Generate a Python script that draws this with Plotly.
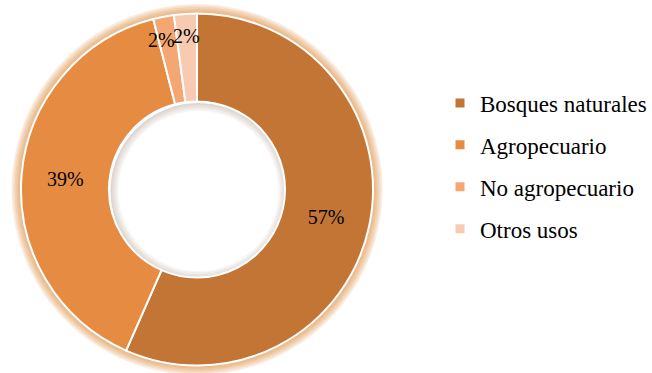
import math
import plotly.graph_objects as go

# ---- data ----
categories = ["Bosques naturales", "Agropecuario", "No agropecuario", "Otros usos"]
values = [56.6, 39.4, 1.9, 2.1]
colors = ["#C37535", "#E68C42", "#F4A772", "#F8CAB2"]

W, H = 652, 373
FONT = "Liberation Serif, Times New Roman, serif"

# pie geometry (pixels)
cx, cy, R = 197.0, 189.5, 176.0
hole = 0.5

def dom(r):
    return dict(x=[(cx - r) / W, (cx + r) / W],
                y=[(H - cy - r) / H, (H - cy + r) / H])

def circle(r, color, width, dx=0.0, dy=0.0):
    x, y = cx + dx, cy + dy
    return dict(type="circle", xref="paper", yref="paper", layer="below",
                x0=(x - r) / W, x1=(x + r) / W,
                y0=(H - y - r) / H, y1=(H - y + r) / H,
                line=dict(color=color, width=width))

shapes = []
# soft orange glow around the ring
for k in range(1, 7):
    shapes.append(circle(R + k * 0.8, "rgba(222,140,60,0.15)", 1.6 * k))
# soft shadow inside the hole
for k in range(1, 6):
    shapes.append(circle(R * hole - k * 0.8, "rgba(130,105,80,0.06)", 1.6 * k, 1.5, 1.5))

fig = go.Figure()

total = sum(values)
big = [v / total >= 0.05 for v in values]
templates = ["%{percent:.0%}" if b else "" for b in big]

fig.add_trace(go.Pie(
    labels=categories, values=values, domain=dom(R), hole=hole,
    sort=False, direction="clockwise", rotation=0,
    marker=dict(colors=colors, line=dict(color="white", width=2)),
    texttemplate=templates, textposition="inside", insidetextorientation="horizontal",
    textfont=dict(family=FONT, size=20, color="black"),
    showlegend=False, hoverinfo="label+percent",
))

# labels for the thin slices, placed from their angles
cum = 0.0
shifts = {2: -6, 3: 0}
annotations = []
for i, v in enumerate(values):
    mid = (cum + v / 2) / total * 2 * math.pi
    cum += v
    if big[i]:
        continue
    rr = 153
    px = cx + rr * math.sin(mid) + shifts.get(i, 0)
    py = cy - rr * math.cos(mid) + (1 if i == 2 else -1)
    annotations.append(dict(x=px / W, y=1 - py / H, xref="paper", yref="paper",
                            xanchor="center", yanchor="middle",
                            text=f"{round(v / total * 100)}%", showarrow=False,
                            font=dict(family=FONT, size=20, color="black")))

# legend entries
for i, (c, col) in enumerate(zip(categories, colors)):
    fig.add_trace(go.Scatter(x=[None], y=[None], mode="markers", name=c,
                             legendgroup=f"g{i}",
                             marker=dict(symbol="square", size=9, color=col)))

fig.update_layout(
    width=W, height=H, margin=dict(l=0, r=0, t=0, b=0, autoexpand=False),
    paper_bgcolor="white", plot_bgcolor="rgba(0,0,0,0)",
    xaxis=dict(visible=False), yaxis=dict(visible=False),
    annotations=annotations, shapes=shapes,
    legend=dict(x=440 / W, y=0.5 + (H / 2 - 166) / H, xanchor="left", yanchor="middle",
                font=dict(family=FONT, size=23, color="black"),
                traceorder="grouped", tracegroupgap=9, itemwidth=30,
                bgcolor="rgba(0,0,0,0)"),
)

fig.write_html("out.html", config={"displayModeBar": False},
               post_script="document.body.style.margin='0';")
